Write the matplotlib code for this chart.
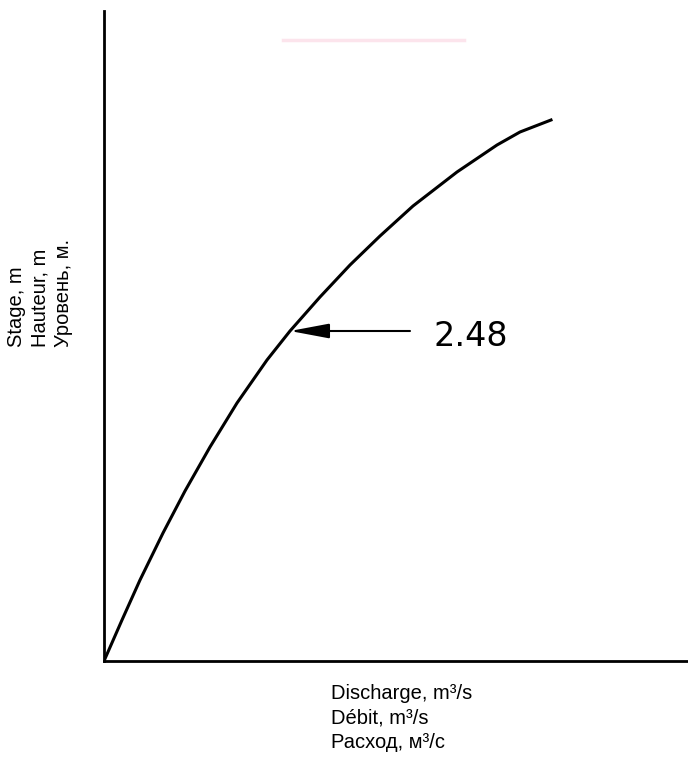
import matplotlib.pyplot as plt
from matplotlib.lines import Line2D

# curva chave (leitura da figura, unidades arbitrarias)
descarga = [0, 18, 36, 59, 81, 106, 133, 163, 186, 216, 246, 276, 309, 353, 393, 416, 447]
nivel = [0, 41, 81, 128, 170, 214, 258, 301, 330, 364, 396, 425, 455, 489, 516, 529, 541]

ponto_descarga = 186
ponto_nivel = 330
rotulo_ponto = "2.48"

rotulo_y = "Stage, m\nHauteur, m\nУровень, м."
rotulo_x = "Discharge, m³/s\nDébit, m³/s\nРасход, м³/с"

plt.rcParams['font.family'] = ['Liberation Sans', 'DejaVu Sans']

fig = plt.figure(figsize=(6.88, 7.6), dpi=100)
ax = fig.add_axes([104/688, 99/760, 584/688, 650/760])

ax.plot(descarga, nivel, color="black", lw=2.2, solid_joinstyle="round")
ax.set_xlim(0, 584)
ax.set_ylim(0, 650)

for s in ["top", "right"]:
    ax.spines[s].set_visible(False)
for s in ["left", "bottom"]:
    ax.spines[s].set_linewidth(2.0)
ax.set_xticks([])
ax.set_yticks([])

# seta apontando para o ponto
ax.annotate("", xy=(ponto_descarga, ponto_nivel), xytext=(ponto_descarga + 120, ponto_nivel),
            arrowprops=dict(arrowstyle="-|>,head_length=2.4,head_width=0.45",
                            color="black", lw=1.5, shrinkA=0, shrinkB=0))
ax.text(ponto_descarga + 144, ponto_nivel - 5, rotulo_ponto, fontsize=24,
        family=['DejaVu Sans'], va="center", ha="left")

fig.text(7/688, 1 - 347/760, rotulo_y, rotation=90, fontsize=14.5,
         ha="left", va="bottom", multialignment="left", linespacing=1.3)
fig.text(331/688, 1 - 684/760, rotulo_x, fontsize=14.5,
         ha="left", va="top", multialignment="left", linespacing=1.35)

# risco rosado do escaneamento
fig.add_artist(Line2D([283/688, 464/688], [1 - 40/760, 1 - 40/760],
                      color="#fce4ec", lw=2.5))

fig.savefig("out.png", dpi=100)
